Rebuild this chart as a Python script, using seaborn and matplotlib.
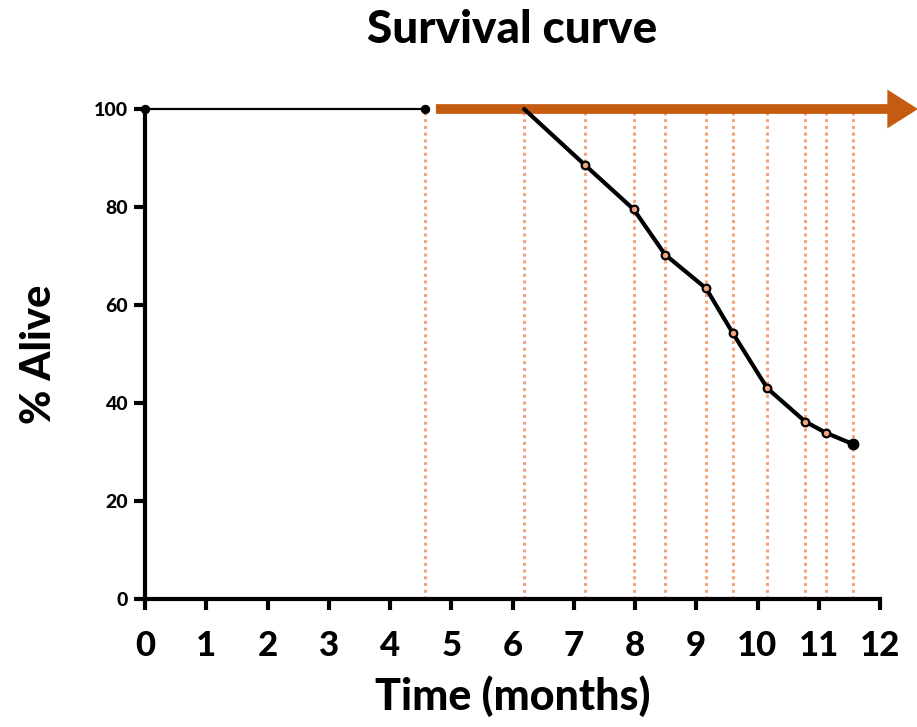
import matplotlib
matplotlib.use("Agg")
import matplotlib.pyplot as plt
import seaborn as sns
import pandas as pd
from matplotlib.patches import FancyArrowPatch

# Data
flat_times = [0, 4.57]
flat_values = [100, 100]
event_times = [6.19, 7.18, 7.98, 8.49, 9.16, 9.60, 10.16, 10.78, 11.12, 11.56]
survival = [100, 88.6, 79.5, 70.3, 63.4, 54.2, 43.0, 36.2, 33.9, 31.6]
guide_times = [4.57] + event_times
x_ticks = list(range(0, 13))
y_ticks = [0, 20, 40, 60, 80, 100]
arrow_start = 4.75
arrow_end = 12.62

sns.set_theme(style="ticks")
plt.rcParams['font.family'] = ['Lato', 'DejaVu Sans']
plt.rcParams['text.color'] = 'black'
plt.rcParams['axes.labelcolor'] = 'black'
plt.rcParams['xtick.color'] = 'black'
plt.rcParams['ytick.color'] = 'black'

fig = plt.figure(figsize=(9.17, 7.27), dpi=100)
ax = fig.add_axes([145/917, 1-599/727, (880-145)/917, (599-109)/727])

orange_light = "#F2A47C"
orange_dark = "#C55A11"

# dotted guide lines
ax.vlines(guide_times, 0, 100, colors=orange_light, linestyles=(0, (1, 1.2)), linewidth=2.2, zorder=1)

# flat segment
df_flat = pd.DataFrame({"t": flat_times, "v": flat_values})
sns.lineplot(data=df_flat, x="t", y="v", ax=ax, color="black", linewidth=1.6,
             marker="o", markersize=6, markeredgecolor="black", markerfacecolor="black",
             clip_on=False, zorder=3)

# arrow
arr = FancyArrowPatch((arrow_start, 100), (arrow_end, 100),
                      arrowstyle="-|>,head_length=0.6,head_width=0.38",
                      mutation_scale=20, linewidth=7, color=orange_dark,
                      shrinkA=0, shrinkB=0, clip_on=False, zorder=2,
                      capstyle="butt", joinstyle="miter")
ax.add_patch(arr)

# survival curve
df_curve = pd.DataFrame({"t": event_times, "v": survival})
sns.lineplot(data=df_curve, x="t", y="v", ax=ax, color="black", linewidth=3,
             clip_on=False, zorder=4)
ax.plot(event_times[1:-1], survival[1:-1], linestyle="none", marker="o", markersize=5.5,
        markerfacecolor=orange_light, markeredgecolor="black", markeredgewidth=1.6,
        zorder=5, clip_on=False)
ax.plot(event_times[-1:], survival[-1:], linestyle="none", marker="o", markersize=7.5,
        markerfacecolor="black", markeredgecolor="black", zorder=5, clip_on=False)

ax.set_xlim(0, 12)
ax.set_ylim(0, 100)
ax.set_xticks(x_ticks)
ax.set_xticklabels([str(t) for t in x_ticks], fontsize=25, fontweight="black")
ax.set_yticks(y_ticks)
ax.set_yticklabels([str(t) for t in y_ticks], fontsize=14, fontweight="black")

for s in ["top", "right"]:
    ax.spines[s].set_visible(False)
for s in ["left", "bottom"]:
    ax.spines[s].set_linewidth(3)
    ax.spines[s].set_color("black")

ax.tick_params(axis="x", length=8, width=3, pad=14, colors="black")
ax.tick_params(axis="y", length=8, width=3, pad=4, colors="black")

ax.set_xlabel("Time (months)", fontsize=31, fontweight="black", labelpad=10)
ax.set_ylabel("% Alive", fontsize=30, fontweight="black", labelpad=26)
fig.text(512/917, 1-30/727, "Survival curve", ha="center", va="center",
         fontsize=33, fontweight="black")

fig.savefig("out.png", dpi=100)
